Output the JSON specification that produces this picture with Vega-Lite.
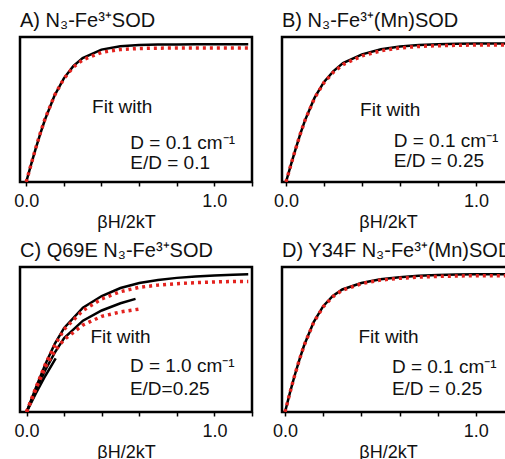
{
  "$schema": "https://vega.github.io/schema/vega-lite/v6.json",
  "background": "white",
  "padding": {"left": 12, "top": 9, "right": 0, "bottom": 0},
  "config": {
    "font": "Liberation Sans",
    "view": {"stroke": "black", "strokeWidth": 2.5},
    "title": {"anchor": "start", "frame": "group", "fontSize": 20, "fontWeight": "normal", "color": "#111", "offset": 6},
    "axisX": {
      "values": [0, 0.1, 0.2, 0.3, 0.4, 0.5, 0.6, 0.7, 0.8, 0.9, 1.0, 1.1],
      "labelExpr": "datum.value == 0 || datum.value == 0.5 || datum.value == 1 ? format(datum.value, '.1f') : ''",
      "domain": false,
      "grid": false,
      "tickColor": "black",
      "tickSize": 4,
      "tickWidth": 1.5,
      "labelFontSize": 18,
      "labelColor": "#111",
      "labelPadding": 6,
      "labelFlush": false,
      "titleFontSize": 18,
      "titleFontWeight": "normal",
      "titleColor": "#111",
      "titlePadding": 3,
      "titleX": 106,
      "titleAlign": "center"
    },
    "text": {"fontSize": 19, "font": "Liberation Sans", "color": "#111", "align": "left", "baseline": "middle"}
  },
  "datasets": {
    "curves": [
      {"panel": "A", "series": "A1", "kind": "data", "x": 0, "y": 0},
      {"panel": "A", "series": "A1", "kind": "data", "x": 0.025, "y": 0.116},
      {"panel": "A", "series": "A1", "kind": "data", "x": 0.05, "y": 0.228},
      {"panel": "A", "series": "A1", "kind": "data", "x": 0.075, "y": 0.334},
      {"panel": "A", "series": "A1", "kind": "data", "x": 0.1, "y": 0.431},
      {"panel": "A", "series": "A1", "kind": "data", "x": 0.15, "y": 0.595},
      {"panel": "A", "series": "A1", "kind": "data", "x": 0.2, "y": 0.715},
      {"panel": "A", "series": "A1", "kind": "data", "x": 0.25, "y": 0.799},
      {"panel": "A", "series": "A1", "kind": "data", "x": 0.3, "y": 0.855},
      {"panel": "A", "series": "A1", "kind": "data", "x": 0.4, "y": 0.913},
      {"panel": "A", "series": "A1", "kind": "data", "x": 0.5, "y": 0.936},
      {"panel": "A", "series": "A1", "kind": "data", "x": 0.6, "y": 0.945},
      {"panel": "A", "series": "A1", "kind": "data", "x": 0.7, "y": 0.948},
      {"panel": "A", "series": "A1", "kind": "data", "x": 0.8, "y": 0.949},
      {"panel": "A", "series": "A1", "kind": "data", "x": 0.9, "y": 0.95},
      {"panel": "A", "series": "A1", "kind": "data", "x": 1.0, "y": 0.95},
      {"panel": "A", "series": "A1", "kind": "data", "x": 1.1, "y": 0.95},
      {"panel": "A", "series": "A1", "kind": "data", "x": 1.18, "y": 0.95},
      {"panel": "A", "series": "A1f", "kind": "fit", "x": 0, "y": 0},
      {"panel": "A", "series": "A1f", "kind": "fit", "x": 0.025, "y": 0.117},
      {"panel": "A", "series": "A1f", "kind": "fit", "x": 0.05, "y": 0.231},
      {"panel": "A", "series": "A1f", "kind": "fit", "x": 0.075, "y": 0.338},
      {"panel": "A", "series": "A1f", "kind": "fit", "x": 0.1, "y": 0.435},
      {"panel": "A", "series": "A1f", "kind": "fit", "x": 0.15, "y": 0.596},
      {"panel": "A", "series": "A1f", "kind": "fit", "x": 0.2, "y": 0.712},
      {"panel": "A", "series": "A1f", "kind": "fit", "x": 0.25, "y": 0.792},
      {"panel": "A", "series": "A1f", "kind": "fit", "x": 0.3, "y": 0.842},
      {"panel": "A", "series": "A1f", "kind": "fit", "x": 0.4, "y": 0.894},
      {"panel": "A", "series": "A1f", "kind": "fit", "x": 0.5, "y": 0.914},
      {"panel": "A", "series": "A1f", "kind": "fit", "x": 0.6, "y": 0.921},
      {"panel": "A", "series": "A1f", "kind": "fit", "x": 0.7, "y": 0.923},
      {"panel": "A", "series": "A1f", "kind": "fit", "x": 0.8, "y": 0.924},
      {"panel": "A", "series": "A1f", "kind": "fit", "x": 0.9, "y": 0.925},
      {"panel": "A", "series": "A1f", "kind": "fit", "x": 1.0, "y": 0.925},
      {"panel": "A", "series": "A1f", "kind": "fit", "x": 1.1, "y": 0.925},
      {"panel": "A", "series": "A1f", "kind": "fit", "x": 1.18, "y": 0.925},

      {"panel": "B", "series": "B1", "kind": "data", "x": 0, "y": 0},
      {"panel": "B", "series": "B1", "kind": "data", "x": 0.025, "y": 0.115},
      {"panel": "B", "series": "B1", "kind": "data", "x": 0.05, "y": 0.225},
      {"panel": "B", "series": "B1", "kind": "data", "x": 0.075, "y": 0.33},
      {"panel": "B", "series": "B1", "kind": "data", "x": 0.1, "y": 0.425},
      {"panel": "B", "series": "B1", "kind": "data", "x": 0.15, "y": 0.58},
      {"panel": "B", "series": "B1", "kind": "data", "x": 0.2, "y": 0.69},
      {"panel": "B", "series": "B1", "kind": "data", "x": 0.25, "y": 0.765},
      {"panel": "B", "series": "B1", "kind": "data", "x": 0.3, "y": 0.82},
      {"panel": "B", "series": "B1", "kind": "data", "x": 0.4, "y": 0.88},
      {"panel": "B", "series": "B1", "kind": "data", "x": 0.5, "y": 0.915},
      {"panel": "B", "series": "B1", "kind": "data", "x": 0.6, "y": 0.935},
      {"panel": "B", "series": "B1", "kind": "data", "x": 0.7, "y": 0.945},
      {"panel": "B", "series": "B1", "kind": "data", "x": 0.8, "y": 0.95},
      {"panel": "B", "series": "B1", "kind": "data", "x": 0.9, "y": 0.953},
      {"panel": "B", "series": "B1", "kind": "data", "x": 1.0, "y": 0.955},
      {"panel": "B", "series": "B1", "kind": "data", "x": 1.1, "y": 0.955},
      {"panel": "B", "series": "B1", "kind": "data", "x": 1.2, "y": 0.955},
      {"panel": "B", "series": "B1f", "kind": "fit", "x": 0, "y": 0},
      {"panel": "B", "series": "B1f", "kind": "fit", "x": 0.025, "y": 0.115},
      {"panel": "B", "series": "B1f", "kind": "fit", "x": 0.05, "y": 0.225},
      {"panel": "B", "series": "B1f", "kind": "fit", "x": 0.075, "y": 0.33},
      {"panel": "B", "series": "B1f", "kind": "fit", "x": 0.1, "y": 0.425},
      {"panel": "B", "series": "B1f", "kind": "fit", "x": 0.15, "y": 0.578},
      {"panel": "B", "series": "B1f", "kind": "fit", "x": 0.2, "y": 0.685},
      {"panel": "B", "series": "B1f", "kind": "fit", "x": 0.25, "y": 0.758},
      {"panel": "B", "series": "B1f", "kind": "fit", "x": 0.3, "y": 0.81},
      {"panel": "B", "series": "B1f", "kind": "fit", "x": 0.4, "y": 0.87},
      {"panel": "B", "series": "B1f", "kind": "fit", "x": 0.5, "y": 0.905},
      {"panel": "B", "series": "B1f", "kind": "fit", "x": 0.6, "y": 0.925},
      {"panel": "B", "series": "B1f", "kind": "fit", "x": 0.7, "y": 0.935},
      {"panel": "B", "series": "B1f", "kind": "fit", "x": 0.8, "y": 0.94},
      {"panel": "B", "series": "B1f", "kind": "fit", "x": 0.9, "y": 0.943},
      {"panel": "B", "series": "B1f", "kind": "fit", "x": 1.0, "y": 0.945},
      {"panel": "B", "series": "B1f", "kind": "fit", "x": 1.1, "y": 0.945},
      {"panel": "B", "series": "B1f", "kind": "fit", "x": 1.2, "y": 0.945},

      {"panel": "C", "series": "C1", "kind": "data", "x": 0, "y": 0},
      {"panel": "C", "series": "C1", "kind": "data", "x": 0.05, "y": 0.17},
      {"panel": "C", "series": "C1", "kind": "data", "x": 0.1, "y": 0.33},
      {"panel": "C", "series": "C1", "kind": "data", "x": 0.15, "y": 0.47},
      {"panel": "C", "series": "C1", "kind": "data", "x": 0.2, "y": 0.58},
      {"panel": "C", "series": "C1", "kind": "data", "x": 0.3, "y": 0.72},
      {"panel": "C", "series": "C1", "kind": "data", "x": 0.4, "y": 0.80},
      {"panel": "C", "series": "C1", "kind": "data", "x": 0.5, "y": 0.855},
      {"panel": "C", "series": "C1", "kind": "data", "x": 0.6, "y": 0.89},
      {"panel": "C", "series": "C1", "kind": "data", "x": 0.7, "y": 0.91},
      {"panel": "C", "series": "C1", "kind": "data", "x": 0.8, "y": 0.925},
      {"panel": "C", "series": "C1", "kind": "data", "x": 0.9, "y": 0.935},
      {"panel": "C", "series": "C1", "kind": "data", "x": 1.0, "y": 0.942},
      {"panel": "C", "series": "C1", "kind": "data", "x": 1.1, "y": 0.947},
      {"panel": "C", "series": "C1", "kind": "data", "x": 1.18, "y": 0.95},
      {"panel": "C", "series": "C2", "kind": "data", "x": 0, "y": 0},
      {"panel": "C", "series": "C2", "kind": "data", "x": 0.05, "y": 0.15},
      {"panel": "C", "series": "C2", "kind": "data", "x": 0.1, "y": 0.29},
      {"panel": "C", "series": "C2", "kind": "data", "x": 0.15, "y": 0.41},
      {"panel": "C", "series": "C2", "kind": "data", "x": 0.2, "y": 0.51},
      {"panel": "C", "series": "C2", "kind": "data", "x": 0.3, "y": 0.63},
      {"panel": "C", "series": "C2", "kind": "data", "x": 0.4, "y": 0.70},
      {"panel": "C", "series": "C2", "kind": "data", "x": 0.5, "y": 0.75},
      {"panel": "C", "series": "C2", "kind": "data", "x": 0.58, "y": 0.78},
      {"panel": "C", "series": "C3", "kind": "data", "x": 0, "y": 0},
      {"panel": "C", "series": "C3", "kind": "data", "x": 0.05, "y": 0.13},
      {"panel": "C", "series": "C3", "kind": "data", "x": 0.1, "y": 0.25},
      {"panel": "C", "series": "C3", "kind": "data", "x": 0.155, "y": 0.37},
      {"panel": "C", "series": "C1f", "kind": "fit", "x": 0, "y": 0},
      {"panel": "C", "series": "C1f", "kind": "fit", "x": 0.05, "y": 0.17},
      {"panel": "C", "series": "C1f", "kind": "fit", "x": 0.1, "y": 0.33},
      {"panel": "C", "series": "C1f", "kind": "fit", "x": 0.15, "y": 0.46},
      {"panel": "C", "series": "C1f", "kind": "fit", "x": 0.2, "y": 0.57},
      {"panel": "C", "series": "C1f", "kind": "fit", "x": 0.3, "y": 0.70},
      {"panel": "C", "series": "C1f", "kind": "fit", "x": 0.4, "y": 0.78},
      {"panel": "C", "series": "C1f", "kind": "fit", "x": 0.5, "y": 0.83},
      {"panel": "C", "series": "C1f", "kind": "fit", "x": 0.6, "y": 0.86},
      {"panel": "C", "series": "C1f", "kind": "fit", "x": 0.7, "y": 0.875},
      {"panel": "C", "series": "C1f", "kind": "fit", "x": 0.8, "y": 0.885},
      {"panel": "C", "series": "C1f", "kind": "fit", "x": 0.9, "y": 0.892},
      {"panel": "C", "series": "C1f", "kind": "fit", "x": 1.0, "y": 0.897},
      {"panel": "C", "series": "C1f", "kind": "fit", "x": 1.1, "y": 0.90},
      {"panel": "C", "series": "C1f", "kind": "fit", "x": 1.18, "y": 0.90},
      {"panel": "C", "series": "C2f", "kind": "fit", "x": 0, "y": 0},
      {"panel": "C", "series": "C2f", "kind": "fit", "x": 0.05, "y": 0.16},
      {"panel": "C", "series": "C2f", "kind": "fit", "x": 0.1, "y": 0.31},
      {"panel": "C", "series": "C2f", "kind": "fit", "x": 0.15, "y": 0.42},
      {"panel": "C", "series": "C2f", "kind": "fit", "x": 0.2, "y": 0.50},
      {"panel": "C", "series": "C2f", "kind": "fit", "x": 0.3, "y": 0.60},
      {"panel": "C", "series": "C2f", "kind": "fit", "x": 0.4, "y": 0.66},
      {"panel": "C", "series": "C2f", "kind": "fit", "x": 0.5, "y": 0.69},
      {"panel": "C", "series": "C2f", "kind": "fit", "x": 0.6, "y": 0.71},

      {"panel": "D", "series": "D1", "kind": "data", "x": 0, "y": 0},
      {"panel": "D", "series": "D1", "kind": "data", "x": 0.025, "y": 0.13},
      {"panel": "D", "series": "D1", "kind": "data", "x": 0.05, "y": 0.25},
      {"panel": "D", "series": "D1", "kind": "data", "x": 0.075, "y": 0.36},
      {"panel": "D", "series": "D1", "kind": "data", "x": 0.1, "y": 0.46},
      {"panel": "D", "series": "D1", "kind": "data", "x": 0.15, "y": 0.62},
      {"panel": "D", "series": "D1", "kind": "data", "x": 0.2, "y": 0.73},
      {"panel": "D", "series": "D1", "kind": "data", "x": 0.25, "y": 0.80},
      {"panel": "D", "series": "D1", "kind": "data", "x": 0.3, "y": 0.845},
      {"panel": "D", "series": "D1", "kind": "data", "x": 0.4, "y": 0.89},
      {"panel": "D", "series": "D1", "kind": "data", "x": 0.5, "y": 0.915},
      {"panel": "D", "series": "D1", "kind": "data", "x": 0.6, "y": 0.93},
      {"panel": "D", "series": "D1", "kind": "data", "x": 0.7, "y": 0.94},
      {"panel": "D", "series": "D1", "kind": "data", "x": 0.8, "y": 0.945},
      {"panel": "D", "series": "D1", "kind": "data", "x": 0.9, "y": 0.948},
      {"panel": "D", "series": "D1", "kind": "data", "x": 1.0, "y": 0.95},
      {"panel": "D", "series": "D1", "kind": "data", "x": 1.1, "y": 0.95},
      {"panel": "D", "series": "D1", "kind": "data", "x": 1.2, "y": 0.95},
      {"panel": "D", "series": "D1f", "kind": "fit", "x": 0, "y": 0},
      {"panel": "D", "series": "D1f", "kind": "fit", "x": 0.025, "y": 0.13},
      {"panel": "D", "series": "D1f", "kind": "fit", "x": 0.05, "y": 0.25},
      {"panel": "D", "series": "D1f", "kind": "fit", "x": 0.075, "y": 0.36},
      {"panel": "D", "series": "D1f", "kind": "fit", "x": 0.1, "y": 0.46},
      {"panel": "D", "series": "D1f", "kind": "fit", "x": 0.15, "y": 0.618},
      {"panel": "D", "series": "D1f", "kind": "fit", "x": 0.2, "y": 0.725},
      {"panel": "D", "series": "D1f", "kind": "fit", "x": 0.25, "y": 0.795},
      {"panel": "D", "series": "D1f", "kind": "fit", "x": 0.3, "y": 0.84},
      {"panel": "D", "series": "D1f", "kind": "fit", "x": 0.4, "y": 0.885},
      {"panel": "D", "series": "D1f", "kind": "fit", "x": 0.5, "y": 0.91},
      {"panel": "D", "series": "D1f", "kind": "fit", "x": 0.6, "y": 0.922},
      {"panel": "D", "series": "D1f", "kind": "fit", "x": 0.7, "y": 0.93},
      {"panel": "D", "series": "D1f", "kind": "fit", "x": 0.8, "y": 0.935},
      {"panel": "D", "series": "D1f", "kind": "fit", "x": 0.9, "y": 0.938},
      {"panel": "D", "series": "D1f", "kind": "fit", "x": 1.0, "y": 0.94},
      {"panel": "D", "series": "D1f", "kind": "fit", "x": 1.1, "y": 0.94},
      {"panel": "D", "series": "D1f", "kind": "fit", "x": 1.2, "y": 0.94}
    ],
    "notes": [
      {"panel": "A", "x": 0.35, "y": 0.52, "label": "Fit with"},
      {"panel": "A", "x": 0.553, "y": 0.268, "label": "D = 0.1 cm⁻¹"},
      {"panel": "A", "x": 0.553, "y": 0.134, "label": "E/D = 0.1"},
      {"panel": "B", "x": 0.39, "y": 0.50, "label": "Fit with"},
      {"panel": "B", "x": 0.567, "y": 0.28, "label": "D = 0.1 cm⁻¹"},
      {"panel": "B", "x": 0.567, "y": 0.145, "label": "E/D = 0.25"},
      {"panel": "C", "x": 0.34, "y": 0.52, "label": "Fit with"},
      {"panel": "C", "x": 0.55, "y": 0.32, "label": "D = 1.0 cm⁻¹"},
      {"panel": "C", "x": 0.55, "y": 0.16, "label": "E/D=0.25"},
      {"panel": "D", "x": 0.385, "y": 0.52, "label": "Fit with"},
      {"panel": "D", "x": 0.56, "y": 0.31, "label": "D = 0.1 cm⁻¹"},
      {"panel": "D", "x": 0.56, "y": 0.16, "label": "E/D = 0.25"}
    ]
  },
  "columns": 2,
  "bounds": "flush",
  "spacing": {"row": 85, "column": 30},
  "concat": [
    {
      "width": 232, "height": 145,
      "title": "A) N₃-Fe³⁺SOD",
      "layer": [
        {"data": {"name": "curves"}, "transform": [{"filter": "datum.panel == 'A' && datum.kind == 'data'"}],
         "mark": {"type": "line", "color": "black", "strokeWidth": 2.5, "clip": true},
         "encoding": {"x": {"field": "x", "type": "quantitative", "title": "βH/2kT", "scale": {"domain": [-0.033, 1.2], "nice": false, "zero": false}},
                      "y": {"field": "y", "type": "quantitative", "scale": {"domain": [0, 1], "nice": false}, "axis": null},
                      "detail": {"field": "series"}}},
        {"data": {"name": "curves"}, "transform": [{"filter": "datum.panel == 'A' && datum.kind == 'fit'"}],
         "mark": {"type": "line", "color": "#e3231f", "strokeWidth": 3.5, "strokeDash": [3, 4], "clip": true},
         "encoding": {"x": {"field": "x", "type": "quantitative"}, "y": {"field": "y", "type": "quantitative"}, "detail": {"field": "series"}}},
        {"data": {"name": "notes"}, "transform": [{"filter": "datum.panel == 'A'"}],
         "mark": {"type": "text"},
         "encoding": {"x": {"field": "x", "type": "quantitative"}, "y": {"field": "y", "type": "quantitative"}, "text": {"field": "label"}}}
      ]
    },
    {
      "width": 232, "height": 145,
      "title": "B) N₃-Fe³⁺(Mn)SOD",
      "layer": [
        {"data": {"name": "curves"}, "transform": [{"filter": "datum.panel == 'B' && datum.kind == 'data'"}],
         "mark": {"type": "line", "color": "black", "strokeWidth": 2.5, "clip": true},
         "encoding": {"x": {"field": "x", "type": "quantitative", "title": "βH/2kT", "scale": {"domain": [-0.021, 1.2], "nice": false, "zero": false}},
                      "y": {"field": "y", "type": "quantitative", "scale": {"domain": [0, 1], "nice": false}, "axis": null},
                      "detail": {"field": "series"}}},
        {"data": {"name": "curves"}, "transform": [{"filter": "datum.panel == 'B' && datum.kind == 'fit'"}],
         "mark": {"type": "line", "color": "#e3231f", "strokeWidth": 3.5, "strokeDash": [3, 4], "clip": true},
         "encoding": {"x": {"field": "x", "type": "quantitative"}, "y": {"field": "y", "type": "quantitative"}, "detail": {"field": "series"}}},
        {"data": {"name": "notes"}, "transform": [{"filter": "datum.panel == 'B'"}],
         "mark": {"type": "text"},
         "encoding": {"x": {"field": "x", "type": "quantitative"}, "y": {"field": "y", "type": "quantitative"}, "text": {"field": "label"}}}
      ]
    },
    {
      "width": 232, "height": 145,
      "title": "C) Q69E N₃-Fe³⁺SOD",
      "layer": [
        {"data": {"name": "curves"}, "transform": [{"filter": "datum.panel == 'C' && datum.kind == 'data'"}],
         "mark": {"type": "line", "color": "black", "strokeWidth": 2.5, "clip": true},
         "encoding": {"x": {"field": "x", "type": "quantitative", "title": "βH/2kT", "scale": {"domain": [-0.035, 1.2], "nice": false, "zero": false}},
                      "y": {"field": "y", "type": "quantitative", "scale": {"domain": [0, 1], "nice": false}, "axis": null},
                      "detail": {"field": "series"}}},
        {"data": {"name": "curves"}, "transform": [{"filter": "datum.panel == 'C' && datum.kind == 'fit'"}],
         "mark": {"type": "line", "color": "#e3231f", "strokeWidth": 3.5, "strokeDash": [3, 4], "clip": true},
         "encoding": {"x": {"field": "x", "type": "quantitative"}, "y": {"field": "y", "type": "quantitative"}, "detail": {"field": "series"}}},
        {"data": {"name": "notes"}, "transform": [{"filter": "datum.panel == 'C'"}],
         "mark": {"type": "text"},
         "encoding": {"x": {"field": "x", "type": "quantitative"}, "y": {"field": "y", "type": "quantitative"}, "text": {"field": "label"}}}
      ]
    },
    {
      "width": 232, "height": 145,
      "title": "D) Y34F N₃-Fe³⁺(Mn)SOD",
      "layer": [
        {"data": {"name": "curves"}, "transform": [{"filter": "datum.panel == 'D' && datum.kind == 'data'"}],
         "mark": {"type": "line", "color": "black", "strokeWidth": 2.5, "clip": true},
         "encoding": {"x": {"field": "x", "type": "quantitative", "title": "βH/2kT", "scale": {"domain": [-0.016, 1.2], "nice": false, "zero": false}},
                      "y": {"field": "y", "type": "quantitative", "scale": {"domain": [0, 1], "nice": false}, "axis": null},
                      "detail": {"field": "series"}}},
        {"data": {"name": "curves"}, "transform": [{"filter": "datum.panel == 'D' && datum.kind == 'fit'"}],
         "mark": {"type": "line", "color": "#e3231f", "strokeWidth": 3.5, "strokeDash": [3, 4], "clip": true},
         "encoding": {"x": {"field": "x", "type": "quantitative"}, "y": {"field": "y", "type": "quantitative"}, "detail": {"field": "series"}}},
        {"data": {"name": "notes"}, "transform": [{"filter": "datum.panel == 'D'"}],
         "mark": {"type": "text"},
         "encoding": {"x": {"field": "x", "type": "quantitative"}, "y": {"field": "y", "type": "quantitative"}, "text": {"field": "label"}}}
      ]
    }
  ]
}
